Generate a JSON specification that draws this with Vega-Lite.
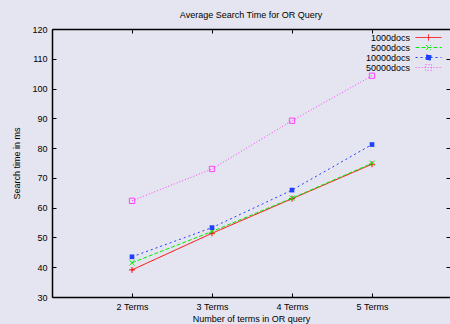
{
  "$schema": "https://vega.github.io/schema/vega-lite/v6.json",
  "width": 398,
  "height": 268,
  "autosize": {"type": "none"},
  "padding": {"left": 52, "top": 29, "right": 0, "bottom": 27},
  "background": "#e4e5f0",
  "title": {"text": "Average Search Time for OR Query", "fontSize": 9, "font": "Liberation Sans", "fontWeight": "normal", "color": "#000", "offset": 5},
  "config": {
    "view": {"stroke": null},
    "font": "Liberation Sans",
    "axis": {"grid": false, "tickColor": "#000", "domainColor": "#000", "domainWidth": 1.5, "labelFontSize": 9, "titleFontSize": 9, "titleFontWeight": "normal", "labelColor": "#000", "titleColor": "#000", "labelFont": "Liberation Sans", "titleFont": "Liberation Sans"}
  },
  "data": {
    "values": [
      {"terms": 2, "series": "1000docs", "time": 39.1},
      {"terms": 3, "series": "1000docs", "time": 51.4},
      {"terms": 4, "series": "1000docs", "time": 63.0},
      {"terms": 5, "series": "1000docs", "time": 74.6},
      {"terms": 2, "series": "5000docs", "time": 41.5},
      {"terms": 3, "series": "5000docs", "time": 52.0},
      {"terms": 4, "series": "5000docs", "time": 63.2},
      {"terms": 5, "series": "5000docs", "time": 74.9},
      {"terms": 2, "series": "10000docs", "time": 43.5},
      {"terms": 3, "series": "10000docs", "time": 53.3},
      {"terms": 4, "series": "10000docs", "time": 65.9},
      {"terms": 5, "series": "10000docs", "time": 81.2},
      {"terms": 2, "series": "50000docs", "time": 62.3},
      {"terms": 3, "series": "50000docs", "time": 73.0},
      {"terms": 4, "series": "50000docs", "time": 89.2},
      {"terms": 5, "series": "50000docs", "time": 104.3}
    ]
  },
  "resolve": {"axis": {"x": "independent", "y": "independent"}},
  "layer": [
    {
      "mark": {"type": "line", "strokeWidth": 1},
      "encoding": {
        "x": {"field": "terms", "type": "quantitative", "scale": {"domain": [1, 5.975], "nice": false, "zero": false},
          "axis": {"orient": "bottom", "values": [2, 3, 4, 5], "labelExpr": "datum.value + ' Terms'", "title": "Number of terms in OR query", "tickSize": -4, "labelPadding": 9, "titlePadding": 3}},
        "y": {"field": "time", "type": "quantitative", "scale": {"domain": [30, 120], "nice": false, "zero": false},
          "axis": {"orient": "left", "values": [30, 40, 50, 60, 70, 80, 90, 100, 110, 120], "title": "Search time in ms", "tickSize": -4, "labelPadding": 9, "titlePadding": 10}},
        "color": {"field": "series", "type": "nominal", "sort": ["1000docs", "5000docs", "10000docs", "50000docs"],
          "scale": {"domain": ["1000docs", "5000docs", "10000docs", "50000docs"], "range": ["#ff0000", "#00ee00", "#2040ff", "#ff40ff"]},
          "legend": {
            "orient": "none", "legendX": 372, "legendY": 4, "title": null, "padding": 0,
            "labelFontSize": 9, "labelFont": "Liberation Sans", "labelColor": "#000", "labelAlign": "right", "labelOffset": -23,
            "symbolSize": 49, "rowPadding": -4, "symbolStrokeWidth": 1, "symbolOpacity": 1
          }},
        "strokeDash": {"field": "series", "type": "nominal",
          "scale": {"domain": ["1000docs", "5000docs", "10000docs", "50000docs"], "range": [[1, 0], [4, 2], [2, 3], [1, 2]]}}
      }
    },
    {
      "transform": [{"filter": "datum.series === '1000docs'"}],
      "mark": {"type": "point", "filled": false, "strokeWidth": 1, "opacity": 1, "size": 36, "shape": "M-1,0H1M0,-1V1"},
      "encoding": {
        "x": {"field": "terms", "type": "quantitative",
          "axis": {"orient": "top", "values": [2, 3, 4, 5], "labels": false, "title": null, "tickSize": -4}},
        "y": {"field": "time", "type": "quantitative",
          "axis": {"orient": "right", "values": [30, 40, 50, 60, 70, 80, 90, 100, 110, 120], "labels": false, "title": null, "domain": false, "tickSize": -4}},
        "color": {"field": "series", "type": "nominal"}
      }
    },
    {
      "transform": [{"filter": "datum.series === '5000docs'"}],
      "mark": {"type": "point", "filled": false, "strokeWidth": 1, "opacity": 1, "size": 36, "shape": "M-0.85,-0.85L0.85,0.85M-0.85,0.85L0.85,-0.85"},
      "encoding": {
        "x": {"field": "terms", "type": "quantitative", "axis": null},
        "y": {"field": "time", "type": "quantitative", "axis": null},
        "color": {"field": "series", "type": "nominal"}
      }
    },
    {
      "transform": [{"filter": "datum.series === '10000docs'"}],
      "mark": {"type": "point", "filled": true, "opacity": 1, "size": 22, "shape": "square"},
      "encoding": {
        "x": {"field": "terms", "type": "quantitative", "axis": null},
        "y": {"field": "time", "type": "quantitative", "axis": null},
        "color": {"field": "series", "type": "nominal"}
      }
    },
    {
      "transform": [{"filter": "datum.series === '50000docs'"}],
      "mark": {"type": "point", "filled": false, "strokeWidth": 1, "opacity": 1, "size": 28, "shape": "square"},
      "encoding": {
        "x": {"field": "terms", "type": "quantitative", "axis": null},
        "y": {"field": "time", "type": "quantitative", "axis": null},
        "color": {"field": "series", "type": "nominal"}
      }
    },
    {
      "mark": {"type": "point", "filled": false, "strokeWidth": 1},
      "encoding": {
        "x": {"field": "terms", "type": "quantitative", "axis": null},
        "y": {"field": "time", "type": "quantitative", "axis": null},
        "color": {"field": "series", "type": "nominal"},
        "shape": {"field": "series", "type": "nominal",
          "scale": {"domain": ["1000docs", "5000docs", "10000docs", "50000docs"], "range": ["M-3.7,0H3.7M0,-0.85V0.85", "M-3.7,0H3.7M-0.7,-0.7L0.7,0.7M-0.7,0.7L0.7,-0.7", "M-3.7,0H3.7M-0.7,-0.7H0.7V0.7H-0.7Z", "M-3.7,0H3.7M-0.85,-0.85H0.85M0.85,-0.85V0.85M0.85,0.85H-0.85M-0.85,0.85V-0.85"]}},
        "strokeDash": {"field": "series", "type": "nominal"},
        "fill": {"field": "series", "type": "nominal",
          "scale": {"domain": ["1000docs", "5000docs", "10000docs", "50000docs"], "range": ["transparent", "transparent", "#2040ff", "transparent"]}, "legend": null},
        "size": {"field": "time", "type": "quantitative", "scale": {"range": [0, 0]}, "legend": null}
      }
    }
  ]
}
